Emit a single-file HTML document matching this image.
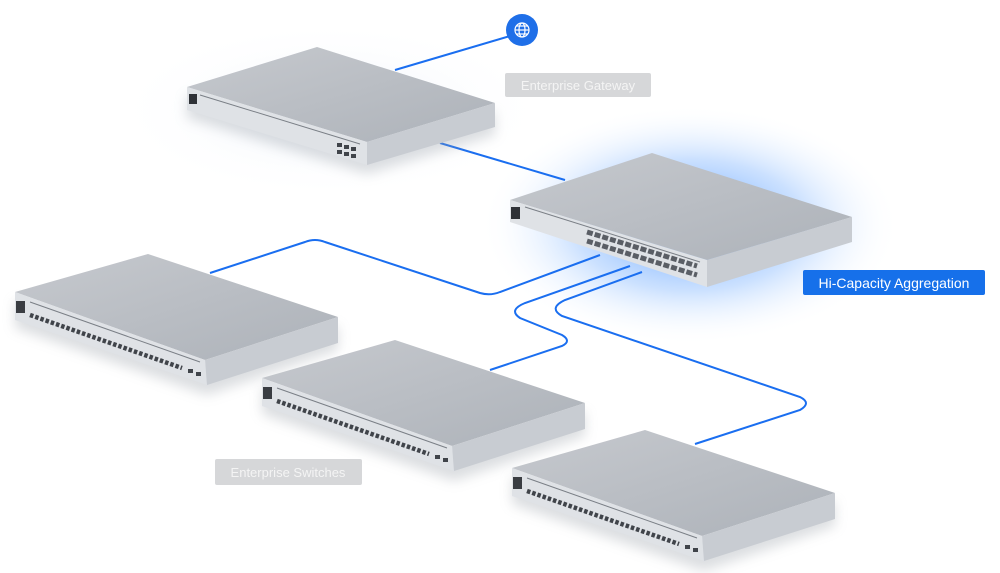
<!DOCTYPE html>
<html><head><style>
html,body{margin:0;padding:0;background:#fff;}
svg{display:block;font-family:"Liberation Sans",sans-serif;}
</style></head><body>
<svg width="1000" height="573" viewBox="0 0 1000 573" xmlns="http://www.w3.org/2000/svg">
<defs>
<radialGradient id="glow" cx="0.5" cy="0.5" r="0.5">
<stop offset="0" stop-color="#3d8cff" stop-opacity="0.9"/>
<stop offset="0.55" stop-color="#8cbcff" stop-opacity="0.45"/>
<stop offset="1" stop-color="#ffffff" stop-opacity="0"/>
</radialGradient>
<radialGradient id="glow2" cx="0.5" cy="0.5" r="0.5">
<stop offset="0" stop-color="#e6eefa" stop-opacity="0.8"/>
<stop offset="1" stop-color="#ffffff" stop-opacity="0"/>
</radialGradient>
<linearGradient id="top" x1="0" y1="0" x2="1" y2="1">
<stop offset="0" stop-color="#c6c9ce"/><stop offset="1" stop-color="#adb2b9"/>
</linearGradient>
<filter id="sh" x="-20%" y="-20%" width="140%" height="160%"><feGaussianBlur stdDeviation="6"/></filter>
<symbol id="sw" overflow="visible">
<polygon points="15,300 205,368 338,325 338,350 207,395 15,328" fill="#9aa0a8" opacity="0.35" filter="url(#sh)"/>
<polygon points="15,292 148,254 338,317 205,360" fill="url(#top)"/>
<polygon points="15,292 205,360 207,385 15,320" fill="#dfe2e6"/>
<polygon points="205,360 338,317 338,343 207,385" fill="#c8ccd2"/>
<line x1="30" y1="302" x2="200" y2="362" stroke="#7a7f86" stroke-width="1"/>
<rect x="16" y="301" width="9" height="12" fill="#3a3d42"/>
<line x1="30" y1="315" x2="182" y2="368" stroke="#40444a" stroke-width="4.5" stroke-dasharray="3.5,2"/>
<rect x="188" y="369" width="5" height="4" fill="#40444a"/><rect x="196" y="372" width="5" height="4" fill="#40444a"/>
</symbol>
</defs>
<rect width="1000" height="573" fill="#fff"/>
<ellipse cx="330" cy="110" rx="220" ry="90" fill="url(#glow2)"/>
<ellipse cx="690" cy="225" rx="210" ry="120" fill="url(#glow)"/>
<g fill="none" stroke="#1a6ef0" stroke-width="2">
<line x1="395" y1="70" x2="510" y2="36"/>
<line x1="440" y1="143" x2="565" y2="180"/>
<path d="M210,273 L305,242 Q315,238 325,242 L480,293 Q490,296 500,292 L600,255"/>
<path d="M630,266 L525,303 Q508,310 520,318 L562,335 Q572,341 562,346 L490,370"/>
<path d="M642,272 L565,300 Q548,308 562,316 L800,397 Q812,403 800,410 L695,444"/>
</g>
<circle cx="522" cy="30" r="16" fill="#1f6fe8"/>
<g fill="none" stroke="#fff" stroke-width="1.2"><circle cx="522" cy="30" r="7"/><ellipse cx="522" cy="30" rx="3" ry="7"/><line x1="515" y1="30" x2="529" y2="30"/><line x1="516" y1="26" x2="528" y2="26"/><line x1="516" y1="34" x2="528" y2="34"/></g>
<!-- gateway -->
<polygon points="187,95 367,150 495,111 495,135 367,174 187,118" fill="#9aa0a8" opacity="0.35" filter="url(#sh)"/>
<polygon points="187,87 317,47 495,103 367,142" fill="url(#top)"/>
<polygon points="187,87 367,142 367,165 187,110" fill="#dfe2e6"/>
<polygon points="367,142 495,103 495,127 367,165" fill="#c8ccd2"/>
<line x1="200" y1="95" x2="360" y2="144" stroke="#7a7f86"/>
<rect x="189" y="94" width="8" height="10" fill="#2f3237"/>
<g fill="#40444a"><rect x="337" y="143" width="5" height="4"/><rect x="344" y="145" width="5" height="4"/><rect x="351" y="147" width="5" height="4"/><rect x="337" y="150" width="5" height="4"/><rect x="344" y="152" width="5" height="4"/><rect x="351" y="154" width="5" height="4"/></g>
<!-- aggregation -->
<polygon points="510,200 652,153 852,217 707,260" fill="url(#top)"/>
<polygon points="510,200 707,260 707,287 510,222" fill="#dfe2e6"/>
<polygon points="707,260 852,217 852,242 707,287" fill="#c8ccd2"/>
<line x1="525" y1="207" x2="700" y2="262" stroke="#7a7f86"/>
<rect x="511" y="207" width="9" height="12" fill="#2f3237"/>
<line x1="587" y1="232" x2="697" y2="266" stroke="#5a5e65" stroke-width="5" stroke-dasharray="6,2"/>
<line x1="587" y1="241" x2="697" y2="275" stroke="#5a5e65" stroke-width="5" stroke-dasharray="6,2"/>
<use href="#sw"/>
<use href="#sw" x="247" y="86"/>
<use href="#sw" x="497" y="176"/>
<rect x="505" y="73" width="146" height="24" rx="2" fill="#d6d7d9"/>
<text x="578" y="90" font-size="13" fill="#f4f4f4" text-anchor="middle">Enterprise Gateway</text>
<rect x="215" y="459" width="147" height="26" rx="2" fill="#d6d7d9"/>
<text x="288" y="477" font-size="13" fill="#f4f4f4" text-anchor="middle">Enterprise Switches</text>
<rect x="803" y="270" width="182" height="25" rx="2" fill="#1670ea"/>
<text x="894" y="288" font-size="14" fill="#fff" text-anchor="middle">Hi-Capacity Aggregation</text>
</svg>
</body></html>
